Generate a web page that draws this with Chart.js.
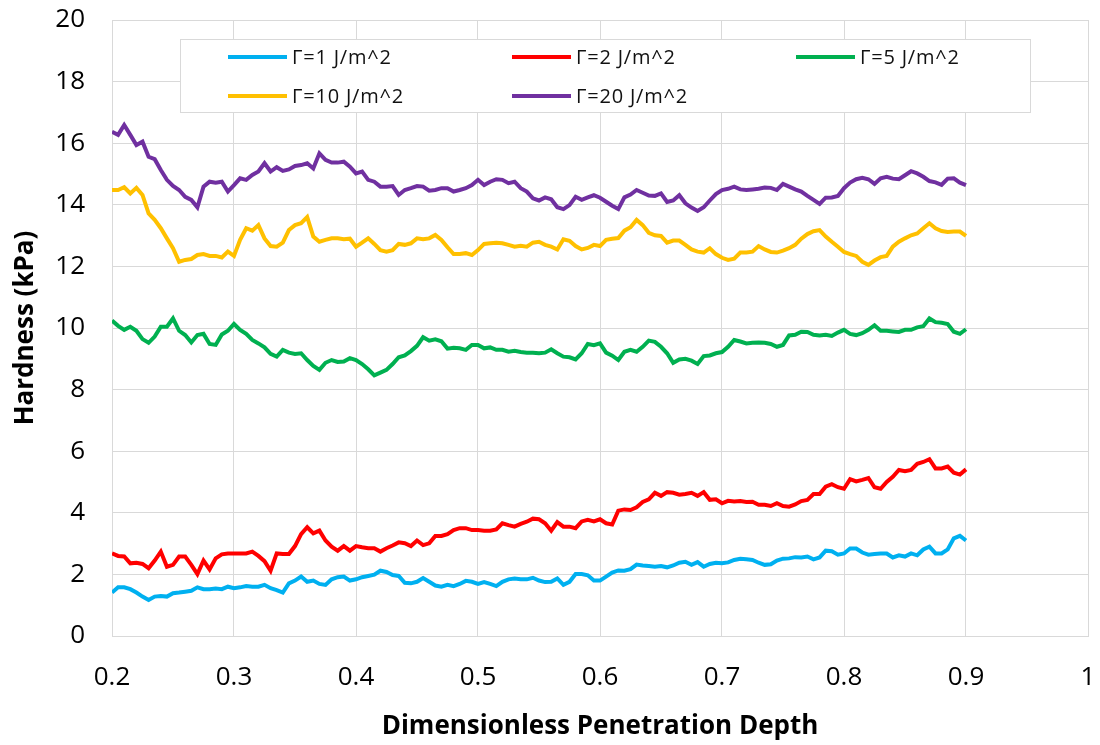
<!DOCTYPE html>
<html>
<head>
<meta charset="utf-8">
<title>Hardness vs penetration depth</title>
<script src="https://cdn.jsdelivr.net/npm/chart.js@4.4.0/dist/chart.umd.min.js"></script>
<style>
  body { margin: 0; background: #fff; }
  #wrap { width: 1100px; height: 745px; }
</style>
</head>
<body>
<div id="wrap"><canvas id="hardnessChart" width="1100" height="745"></canvas></div>
<script>
// Dimensionless penetration depth (sampling positions)
const depth = [
  0.200,0.205,0.210,0.215,0.220,0.225,0.230,0.235,0.240,0.245,
  0.250,0.255,0.260,0.265,0.270,0.275,0.280,0.285,0.290,0.295,
  0.300,0.305,0.310,0.315,0.320,0.325,0.330,0.335,0.340,0.345,
  0.350,0.355,0.360,0.365,0.370,0.375,0.380,0.385,0.390,0.395,
  0.400,0.405,0.410,0.415,0.420,0.425,0.430,0.435,0.440,0.445,
  0.450,0.455,0.460,0.465,0.470,0.475,0.480,0.485,0.490,0.495,
  0.500,0.505,0.510,0.515,0.520,0.525,0.530,0.535,0.540,0.545,
  0.550,0.555,
  0.560,0.565,0.570,0.575,0.580,0.585,0.590,0.595,0.600,0.605,
  0.610,0.615,0.620,0.625,0.630,0.635,0.640,0.645,0.650,0.655,
  0.660,0.665,0.670,0.675,0.680,0.685,0.690,0.695,0.700,0.705,
  0.710,0.715,0.720,0.725,0.730,0.735,0.740,0.745,0.750,0.755,
  0.760,0.765,0.770,0.775,0.780,0.785,0.790,0.795,0.800,0.805,
  0.810,0.815,0.820,0.825,0.830,0.835,0.840,0.845,0.850,0.855,
  0.860,0.865,0.870,0.875,0.880,0.885,0.890,0.895,0.900
];

// Hardness (kPa) for each surface energy
const gamma1 = [
  1.41,1.58,1.58,1.52,1.41,1.28,1.17,1.28,1.30,1.28,
  1.39,1.41,1.44,1.47,1.58,1.52,1.52,1.54,1.52,1.60,
  1.55,1.58,1.62,1.60,1.60,1.66,1.55,1.49,1.41,1.71,
  1.80,1.93,1.76,1.80,1.69,1.66,1.84,1.91,1.93,1.80,
  1.84,1.91,1.95,1.99,2.12,2.08,1.98,1.95,1.73,1.71,
  1.76,1.88,1.76,1.64,1.60,1.66,1.62,1.69,1.79,1.76,
  1.69,1.75,1.69,1.62,1.76,1.84,1.87,1.84,1.84,1.89,
  1.80,1.75,
  1.76,1.87,1.66,1.76,2.01,2.01,1.97,1.80,1.80,1.93,
  2.06,2.13,2.12,2.17,2.32,2.29,2.27,2.25,2.27,2.23,
  2.29,2.38,2.41,2.31,2.40,2.25,2.34,2.38,2.36,2.39,
  2.47,2.51,2.49,2.47,2.38,2.31,2.33,2.45,2.51,2.52,
  2.56,2.55,2.58,2.49,2.55,2.77,2.75,2.64,2.68,2.84,
  2.84,2.71,2.64,2.66,2.68,2.68,2.55,2.62,2.58,2.68,
  2.62,2.81,2.90,2.68,2.68,2.81,3.17,3.25,3.10
];

const gamma2 = [
  2.68,2.60,2.58,2.36,2.38,2.34,2.20,2.45,2.74,2.25,
  2.31,2.58,2.58,2.31,2.01,2.45,2.16,2.52,2.65,2.68,
  2.68,2.68,2.68,2.74,2.60,2.43,2.12,2.68,2.66,2.66,
  2.92,3.31,3.53,3.33,3.42,3.10,2.90,2.77,2.92,2.77,
  2.92,2.88,2.85,2.85,2.74,2.85,2.94,3.04,3.01,2.92,
  3.10,2.95,3.01,3.25,3.25,3.31,3.44,3.50,3.50,3.44,
  3.44,3.42,3.42,3.46,3.66,3.60,3.55,3.64,3.71,3.81,
  3.79,3.66,
  3.42,3.70,3.55,3.55,3.50,3.72,3.77,3.72,3.79,3.66,
  3.62,4.07,4.11,4.09,4.18,4.35,4.44,4.65,4.55,4.67,
  4.65,4.59,4.61,4.65,4.55,4.67,4.42,4.44,4.31,4.39,
  4.37,4.38,4.35,4.36,4.26,4.26,4.22,4.31,4.22,4.20,
  4.27,4.38,4.42,4.61,4.61,4.85,4.93,4.83,4.78,5.09,
  5.02,5.07,5.13,4.83,4.78,5.00,5.17,5.39,5.35,5.39,
  5.59,5.65,5.74,5.44,5.44,5.50,5.30,5.24,5.41
];

const gamma5 = [
  10.24,10.07,9.94,10.04,9.91,9.64,9.52,9.72,10.04,10.04,
  10.31,9.91,9.77,9.53,9.77,9.81,9.48,9.45,9.79,9.91,
  10.13,9.94,9.81,9.61,9.50,9.37,9.16,9.07,9.29,9.20,
  9.16,9.18,8.96,8.77,8.64,8.87,8.96,8.90,8.91,9.02,
  8.96,8.83,8.66,8.46,8.55,8.64,8.83,9.05,9.11,9.25,
  9.42,9.70,9.59,9.63,9.57,9.33,9.36,9.34,9.29,9.45,
  9.45,9.34,9.37,9.29,9.29,9.23,9.26,9.22,9.20,9.20,
  9.18,9.20,
  9.31,9.18,9.07,9.05,8.98,9.18,9.48,9.44,9.50,9.20,
  9.10,8.96,9.23,9.29,9.23,9.39,9.59,9.55,9.39,9.18,
  8.87,8.98,9.00,8.94,8.83,9.09,9.11,9.18,9.22,9.39,
  9.61,9.56,9.50,9.52,9.53,9.52,9.48,9.39,9.45,9.76,
  9.78,9.88,9.87,9.78,9.76,9.78,9.74,9.85,9.94,9.81,
  9.77,9.83,9.94,10.09,9.91,9.91,9.89,9.87,9.94,9.94,
  10.02,10.06,10.31,10.19,10.17,10.13,9.88,9.81,9.96
];

const gamma10 = [
  14.48,14.48,14.57,14.37,14.55,14.32,13.72,13.51,13.24,12.91,
  12.59,12.15,12.21,12.24,12.37,12.40,12.34,12.34,12.29,12.48,
  12.34,12.86,13.24,13.16,13.34,12.91,12.66,12.64,12.77,13.18,
  13.34,13.40,13.60,12.97,12.80,12.86,12.91,12.91,12.88,12.90,
  12.64,12.77,12.91,12.73,12.53,12.48,12.53,12.73,12.70,12.75,
  12.91,12.88,12.91,13.02,12.86,12.62,12.40,12.40,12.43,12.37,
  12.53,12.73,12.75,12.77,12.75,12.70,12.64,12.67,12.64,12.77,
  12.80,12.70,
  12.64,12.55,12.88,12.83,12.66,12.55,12.60,12.70,12.66,12.86,
  12.90,12.92,13.16,13.27,13.51,13.34,13.09,13.01,12.99,12.77,
  12.84,12.84,12.70,12.55,12.48,12.45,12.59,12.40,12.28,12.21,
  12.25,12.45,12.45,12.48,12.66,12.55,12.47,12.45,12.51,12.59,
  12.70,12.90,13.05,13.14,13.18,12.97,12.80,12.64,12.47,12.40,
  12.34,12.15,12.05,12.19,12.30,12.34,12.64,12.80,12.91,13.01,
  13.07,13.24,13.40,13.24,13.15,13.12,13.13,13.13,12.99
];

const gamma20 = [
  16.37,16.27,16.59,16.27,15.94,16.05,15.56,15.48,15.13,14.81,
  14.61,14.48,14.26,14.16,13.92,14.59,14.75,14.72,14.75,14.43,
  14.64,14.86,14.81,14.97,15.08,15.35,15.08,15.22,15.10,15.15,
  15.26,15.29,15.35,15.18,15.67,15.46,15.37,15.37,15.40,15.24,
  15.02,15.08,14.81,14.75,14.59,14.59,14.61,14.32,14.48,14.54,
  14.61,14.59,14.46,14.48,14.54,14.54,14.43,14.48,14.54,14.64,
  14.81,14.64,14.75,14.83,14.81,14.70,14.75,14.54,14.43,14.21,
  14.14,14.24,
  14.18,13.92,13.86,13.99,14.26,14.16,14.24,14.31,14.23,14.10,
  13.97,13.86,14.24,14.33,14.48,14.39,14.30,14.29,14.37,14.09,
  14.14,14.31,14.05,13.91,13.80,13.92,14.14,14.35,14.48,14.52,
  14.59,14.50,14.48,14.50,14.52,14.56,14.55,14.48,14.68,14.59,
  14.50,14.43,14.29,14.16,14.03,14.23,14.24,14.29,14.54,14.72,
  14.83,14.88,14.83,14.68,14.86,14.91,14.85,14.83,14.96,15.09,
  15.02,14.91,14.77,14.73,14.65,14.85,14.86,14.72,14.64
];

const seriesLabels = ['Γ=1 J/m^2', 'Γ=2 J/m^2', 'Γ=5 J/m^2', 'Γ=10 J/m^2', 'Γ=20 J/m^2'];
const seriesValues = [gamma1, gamma2, gamma5, gamma10, gamma20];
const seriesColors = ['#00B0F0', '#FF0000', '#00B050', '#FFC000', '#7030A0'];

const FONT = '"Open Sans", Lato, sans-serif';

// Excel style legend: white box with two rows of entries
const boxLegend = {
    id: 'boxLegend',
    afterDatasetsDraw(chart) {
        const ctx = chart.ctx;
        ctx.save();
        ctx.fillStyle = '#ffffff';
        ctx.strokeStyle = '#d9d9d9';
        ctx.lineWidth = 1;
        ctx.fillRect(180.5, 39.5, 850, 73);
        ctx.strokeRect(180.5, 39.5, 850, 73);
        ctx.font = '20px ' + FONT;
        ctx.letterSpacing = '0.8px';
        ctx.textBaseline = 'middle';
        chart.data.datasets.forEach((ds, i) => {
            const col = i % 3;
            const row = Math.floor(i / 3);
            const x = 228 + col * 284;
            const y = 57 + row * 39;
            ctx.strokeStyle = ds.borderColor;
            ctx.lineWidth = 4;
            ctx.beginPath();
            ctx.moveTo(x, y);
            ctx.lineTo(x + 59, y);
            ctx.stroke();
            ctx.fillStyle = '#111111';
            ctx.fillText(ds.label, x + 64, y + 1);
        });
        ctx.restore();
    }
};

const datasets = seriesLabels.map((label, i) => ({
    label: label,
    data: depth.map((d, j) => ({ x: d, y: seriesValues[i][j] })),
    borderColor: seriesColors[i],
    backgroundColor: seriesColors[i],
    borderWidth: 4,
    pointRadius: 0,
    tension: 0,
    fill: false
}));

const ctx = document.getElementById('hardnessChart').getContext('2d');
new Chart(ctx, {
    type: 'line',
    data: { datasets: datasets },
    options: {
        responsive: false,
        animation: false,
        layout: { padding: { top: 20, right: 12, left: 0, bottom: 0 } },
        plugins: {
            legend: { display: false },
            tooltip: { enabled: false }
        },
        scales: {
            x: {
                type: 'linear',
                min: 0.2,
                max: 1,
                afterFit: scale => {
                    scale.height = 109;
                    scale.paddingLeft = 0;
                    scale.paddingRight = 0;
                },
                ticks: {
                    stepSize: 0.1,
                    padding: 26,
                    color: '#000',
                    font: { family: FONT, size: 26 },
                    callback: v => String(+v.toFixed(1))
                },
                grid: { color: '#d9d9d9', drawTicks: false },
                border: { color: '#d9d9d9' },
                title: {
                    display: true,
                    text: 'Dimensionless Penetration Depth',
                    color: '#000',
                    font: { family: FONT, size: 26, weight: 'bold' },
                    padding: { top: 0, bottom: 3 }
                }
            },
            y: {
                min: 0,
                max: 20,
                afterFit: scale => {
                    scale.width = 112;
                    scale.paddingTop = 0;
                    scale.paddingBottom = 0;
                },
                ticks: {
                    stepSize: 2,
                    padding: 27,
                    color: '#000',
                    font: { family: FONT, size: 26 }
                },
                grid: { color: '#d9d9d9', drawTicks: false },
                border: { color: '#d9d9d9' },
                title: {
                    display: true,
                    text: 'Hardness (kPa)',
                    color: '#000',
                    font: { family: FONT, size: 26, weight: 'bold' },
                    padding: { top: 10, bottom: 0 }
                }
            }
        }
    },
    plugins: [boxLegend]
});
</script>
</body>
</html>
